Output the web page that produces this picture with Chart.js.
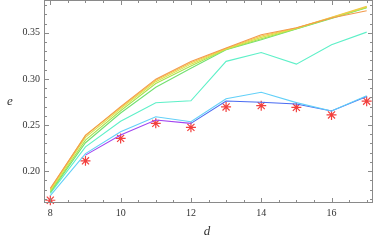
<!DOCTYPE html>
<html>
<head>
<meta charset="utf-8">
<script src="https://cdn.jsdelivr.net/npm/chart.js@4/dist/chart.umd.min.js"></script>
<style>
  html, body { margin: 0; padding: 0; background: #fff; }
  #wrap { width: 374px; height: 240px; }
</style>
</head>
<body>
<div id="wrap"><canvas id="chart" width="374" height="240"></canvas></div>
<script>
/* ---------- data ---------- */
const dims = [8, 9, 10, 11, 12, 13, 14, 15, 16, 17];

const orangeLine = [0.1815, 0.2385, 0.2699, 0.2997, 0.3188, 0.3334, 0.3478, 0.3555, 0.3660, 0.3739];
const goldLine   = [0.1805, 0.2391, 0.2690, 0.2985, 0.3175, 0.3330, 0.3465, 0.3552, 0.3668, 0.3786];
const yellowLine = [0.1795, 0.2366, 0.2675, 0.2970, 0.3160, 0.3325, 0.3450, 0.3548, 0.3665, 0.3780];
const limeLine   = [0.1780, 0.2337, 0.2655, 0.2950, 0.3140, 0.3320, 0.3435, 0.3545, 0.3660, 0.3775];
const greenLine  = [0.1770, 0.2308, 0.2630, 0.2910, 0.3116, 0.3315, 0.3424, 0.3540, 0.3655, 0.3770];
const aquaLine   = [0.1760, 0.2264, 0.2540, 0.2742, 0.2763, 0.3190, 0.3286, 0.3160, 0.3370, 0.3507];
const skyLine    = [0.1735, 0.2190, 0.2427, 0.2590, 0.2536, 0.2785, 0.2855, 0.2743, 0.2652, 0.2818];
const blueLine   = [null,   0.2174, 0.2391, 0.2554, 0.2518, 0.2760, 0.2747, 0.2728, 0.2652, 0.2808];
const starPoints = [0.1685, 0.2112, 0.2355, 0.2518, 0.2475, 0.2696, 0.2710, 0.2692, 0.2609, 0.2758];

const xTickStep = 2;
const yTickStep = 0.05;

/* ---------- helpers ---------- */
const toPoints = vals => dims.map((d, i) => ({ x: d, y: vals[i] }));

const line = (vals, color) => ({
  type: 'line',
  data: toPoints(vals),
  borderColor: color,
  borderWidth: 1.1,
  pointRadius: 0,
  tension: 0,
  fill: false,
  spanGaps: false
});

/* frame with inward ticks, tick labels and the italic axis letters */
const framePlugin = {
  id: 'frame',
  afterDraw(chart) {
    const { ctx, chartArea: a, scales } = chart;
    const xs = scales.x, ys = scales.y;
    ctx.save();
    ctx.strokeStyle = '#8a8a8a';
    ctx.lineWidth = 1;
    ctx.strokeRect(a.left + 0.5, a.top + 0.5, a.right - a.left - 1, a.bottom - a.top - 1);

    const tick = (x1, y1, x2, y2) => {
      ctx.beginPath();
      ctx.moveTo(x1, y1);
      ctx.lineTo(x2, y2);
      ctx.stroke();
    };

    // x ticks, bottom and top
    for (let v = Math.ceil(xs.min * 2) / 2; v <= xs.max; v += 0.5) {
      const px = Math.round(xs.getPixelForValue(v)) + 0.5;
      const len = (v % xTickStep === 0) ? 5 : 3;
      tick(px, a.bottom, px, a.bottom - len);
      tick(px, a.top, px, a.top + len);
    }
    // y ticks, left and right
    for (let k = Math.ceil(ys.min * 100); k <= ys.max * 100; k++) {
      const py = Math.round(ys.getPixelForValue(k / 100)) + 0.5;
      const len = (k % 5 === 0) ? 5 : 3;
      tick(a.left, py, a.left + len, py);
      tick(a.right, py, a.right - len, py);
    }

    // tick labels from the scales' own ticks
    ctx.fillStyle = '#333';
    ctx.font = '10px "Liberation Serif"';
    ctx.textBaseline = 'middle';
    ctx.textAlign = 'center';
    xs.ticks.forEach(t => ctx.fillText(String(t.value), xs.getPixelForValue(t.value), a.bottom + 10));
    ctx.textAlign = 'right';
    ys.ticks.forEach(t => ctx.fillText(t.value.toFixed(2), a.left - 4, ys.getPixelForValue(t.value)));

    ctx.font = 'italic 13px "Liberation Serif"';
    ctx.textAlign = 'center';
    ctx.fillText('d', 207, 232);
    ctx.fillText('e', 10, 102);
    ctx.restore();
  }
};

/* ---------- chart ---------- */
new Chart(document.getElementById('chart'), {
  data: {
    datasets: [
      line(orangeLine, '#f39a4c'),
      line(goldLine,   '#f2c84b'),
      line(yellowLine, '#d9e24a'),
      line(limeLine,   '#a8e34e'),
      line(greenLine,  '#72e070'),
      line(aquaLine,   '#5ef0c8'),
      line(skyLine,    '#62d0f8'),
      Object.assign(line(blueLine, '#4a6cf2'), {
        segment: {
          borderColor: c => c.p0DataIndex < 4 ? '#a044f0' : '#4a6cf2'
        }
      }),
      {
        type: 'scatter',
        data: toPoints(starPoints),
        pointStyle: 'star',
        pointRadius: 5,
        borderColor: '#f2403e',
        backgroundColor: '#f2403e',
        pointBorderWidth: 1.2,
        borderWidth: 1.2,
        clip: false
      }
    ]
  },
  options: {
    responsive: false,
    animation: false,
    events: [],
    layout: { autoPadding: false, padding: { top: 0, right: 1, left: 0, bottom: 0 } },
    plugins: { legend: { display: false }, tooltip: { enabled: false } },
    scales: {
      x: {
        type: 'linear',
        min: 7.82,
        max: 17.18,
        grid: { display: false },
        border: { display: false },
        afterFit: s => { s.height = 37; },
        ticks: { stepSize: xTickStep, includeBounds: false, display: false }
      },
      y: {
        type: 'linear',
        min: 0.1655,
        max: 0.3855,
        grid: { display: false },
        border: { display: false },
        afterFit: s => { s.width = 44; },
        ticks: { stepSize: yTickStep, includeBounds: false, display: false }
      }
    }
  },
  plugins: [framePlugin]
});
</script>
</body>
</html>
